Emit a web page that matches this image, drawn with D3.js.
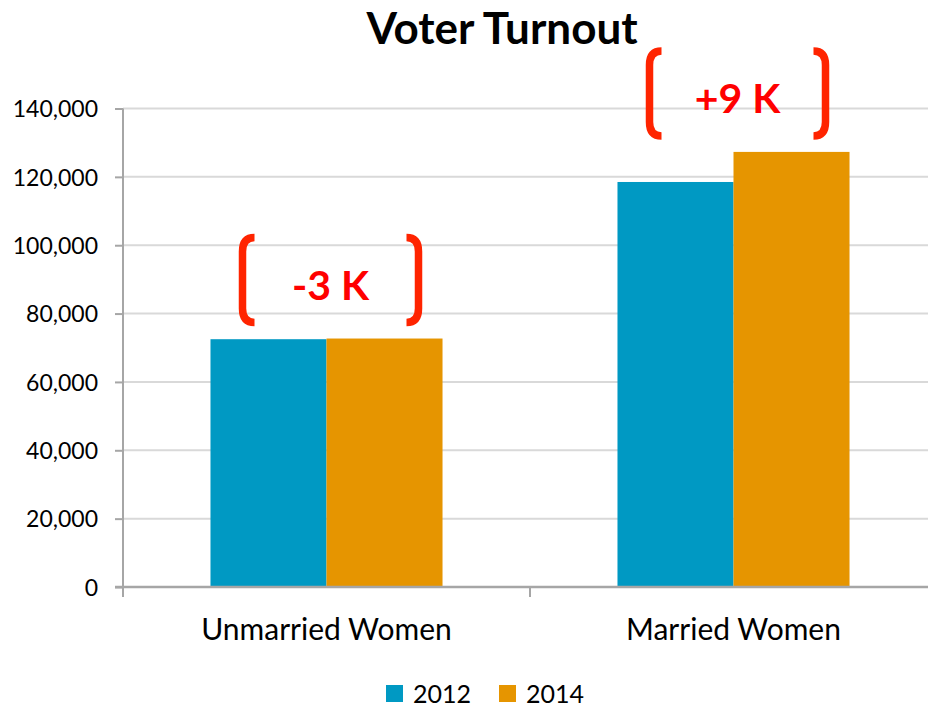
<!DOCTYPE html>
<html>
<head>
<meta charset="utf-8">
<script src="https://cdn.jsdelivr.net/npm/d3@7"></script>
<style>
  html, body { margin: 0; padding: 0; background: #fff; }
  svg { display: block; font-family: Lato, "Open Sans", sans-serif; }
</style>
</head>
<body>
<svg id="chart" width="928" height="708"></svg>
<script>
// Turnout by marital status, 2012 vs 2014
const categories = ["Unmarried Women", "Married Women"];
const years = ["2012", "2014"];
const turnout2012 = [72500, 118500];
const turnout2014 = [72700, 127300];
const changeLabels = ["-3 K", "+9 K"];
const yTicks = [0, 20000, 40000, 60000, 80000, 100000, 120000, 140000];

const colors = { "2012": "#0099c3", "2014": "#e69500" };
const bracketColor = "#ff2400";

const svg = d3.select("#chart");
const W = 928, H = 708;
const plot = { left: 123, right: 937, top: 108.5, bottom: 587 };

const rows = categories.map((c, i) => ({
  category: c,
  values: [
    { year: "2012", value: turnout2012[i] },
    { year: "2014", value: turnout2014[i] }
  ],
  label: changeLabels[i]
}));

const y = d3.scaleLinear().domain([0, 140000]).range([plot.bottom, plot.top]);
const x0 = d3.scaleBand().domain(categories).range([plot.left, plot.right]).padding(0);
const x1 = d3.scaleBand().domain(years).range([0, x0.bandwidth()])
  .paddingInner(0).paddingOuter(0.754);

// gridlines
svg.append("g").selectAll("line")
  .data(yTicks.filter(d => d > 0))
  .join("line")
  .attr("x1", plot.left).attr("x2", W)
  .attr("y1", d => y(d)).attr("y2", d => y(d))
  .attr("stroke", "#d9d9d9").attr("stroke-width", 2);

// bars
const groups = svg.append("g").selectAll("g")
  .data(rows)
  .join("g")
  .attr("transform", d => `translate(${x0(d.category)},0)`);

groups.selectAll("rect")
  .data(d => d.values)
  .join("rect")
  .attr("x", d => x1(d.year))
  .attr("width", x1.bandwidth())
  .attr("y", d => y(d.value))
  .attr("height", d => y(0) - y(d.value))
  .attr("fill", d => colors[d.year]);

// y axis
const yAxis = d3.axisLeft(y).tickValues(yTicks).tickSize(8).tickPadding(17)
  .tickFormat(d3.format(","));
const gy = svg.append("g").attr("transform", `translate(${plot.left},0)`).call(yAxis);
gy.select(".domain").remove();
gy.append("line").attr("x1", 0).attr("x2", 0)
  .attr("y1", plot.top).attr("y2", plot.bottom)
  .attr("stroke", "#a6a6a6").attr("stroke-width", 2);
gy.selectAll(".tick line").attr("stroke", "#a6a6a6").attr("stroke-width", 2);
gy.selectAll(".tick text").attr("fill", "#000").style("font-size", "23px")
  .style("font-family", "Lato, sans-serif").attr("dy", "0.36em");

// x axis
const gx = svg.append("g").attr("transform", `translate(0,${plot.bottom})`);
gx.append("line").attr("x1", plot.left - 8).attr("x2", W)
  .attr("y1", 0).attr("y2", 0)
  .attr("stroke", "#a6a6a6").attr("stroke-width", 2.5);
gx.selectAll("line.tick")
  .data(categories)
  .join("line")
  .attr("class", "tick")
  .attr("x1", d => x0(d)).attr("x2", d => x0(d))
  .attr("y1", 0).attr("y2", 10)
  .attr("stroke", "#a6a6a6").attr("stroke-width", 2);
gx.selectAll("text")
  .data(categories)
  .join("text")
  .attr("x", d => x0(d) + x0.bandwidth() / 2)
  .attr("y", 53)
  .attr("text-anchor", "middle")
  .style("font-size", "30px")
  .attr("fill", "#000")
  .text(d => d);

// change brackets and labels above each group
const bracketH = 85, bracketW = 12, corner = 14, sw = 7.5;
const ann = svg.append("g").selectAll("g")
  .data(rows)
  .join("g")
  .attr("transform", d => {
    const cx = x0(d.category) + x0.bandwidth() / 2;
    const top = y(d3.max(d.values, v => v.value));
    return `translate(${cx},${top - 16})`;
  });

ann.append("path")
  .attr("d", () => {
    const lx = -84, b = 0, t = -bracketH;
    return `M${lx + bracketW},${t} Q${lx},${t} ${lx},${t + corner} L${lx},${b - corner} Q${lx},${b} ${lx + bracketW},${b}`;
  })
  .attr("fill", "none").attr("stroke", bracketColor)
  .attr("stroke-width", sw).attr("stroke-linecap", "butt");

ann.append("path")
  .attr("d", () => {
    const rx = 92, b = 0, t = -bracketH;
    return `M${rx - bracketW},${t} Q${rx},${t} ${rx},${t + corner} L${rx},${b - corner} Q${rx},${b} ${rx - bracketW},${b}`;
  })
  .attr("fill", "none").attr("stroke", bracketColor)
  .attr("stroke-width", sw).attr("stroke-linecap", "butt");

ann.append("text")
  .attr("x", 4).attr("y", -23)
  .attr("text-anchor", "middle")
  .style("font-size", "41px").style("font-weight", "bold")
  .attr("fill", "#ff0000")
  .text(d => d.label);

// title
svg.append("text")
  .attr("x", 502).attr("y", 44)
  .attr("text-anchor", "middle")
  .style("font-size", "44px").style("font-weight", "bold")
  .attr("fill", "#000")
  .text("Voter Turnout");

// legend
const legend = svg.append("g").attr("transform", "translate(386,685)");
const items = legend.selectAll("g")
  .data(years)
  .join("g")
  .attr("transform", (d, i) => `translate(${i * 113},0)`);
items.append("rect").attr("width", 17).attr("height", 17).attr("fill", d => colors[d]);
items.append("text").attr("x", 27).attr("y", 18)
  .style("font-size", "25px").attr("fill", "#000").text(d => d);
</script>
</body>
</html>
